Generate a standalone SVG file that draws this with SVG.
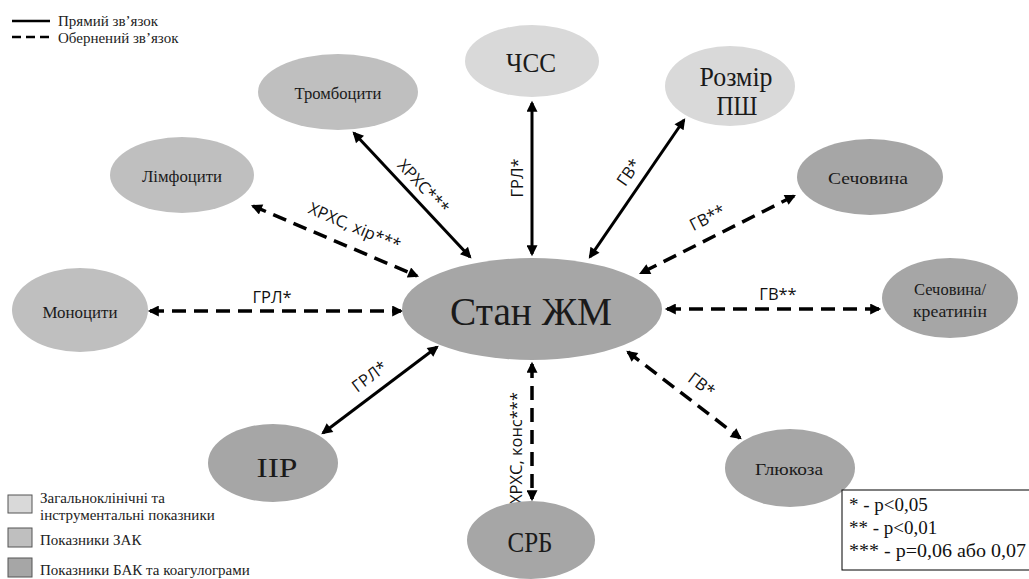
<svg xmlns="http://www.w3.org/2000/svg" width="1029" height="579" viewBox="0 0 1029 579">
<style>
.bg{fill:#ffffff}
.n1{fill:#d9d9d9}
.n2{fill:#bfbfbf}
.n3{fill:#a6a6a6}
.nt{font-family:"Liberation Serif","Times New Roman",serif;fill:#1a1a1a;text-anchor:middle;dominant-baseline:central}
.s17{font-size:17px}
.s28{font-size:28px}
.lbl{font-family:"Open Sans","DejaVu Sans",sans-serif;font-size:16.5px;fill:#111;text-anchor:middle;dominant-baseline:central}
.ln{stroke:#000;stroke-width:3;fill:none;marker-start:url(#ah);marker-end:url(#ah)}
.dash{stroke-dasharray:14 8;stroke-width:3.5}
.leg{font-family:"Liberation Serif","Times New Roman",serif;font-size:15px;fill:#222}
.sig{font-family:"Liberation Serif","Times New Roman",serif;font-size:19px;fill:#111}
</style>
<defs>
<marker id="ah" viewBox="0 0 10 10" refX="8" refY="5" markerWidth="13" markerHeight="11" markerUnits="userSpaceOnUse" orient="auto-start-reverse">
<path d="M0,0 L10,5 L0,10 z" fill="#000"/>
</marker>
</defs>
<rect class="bg" x="0" y="0" width="1029" height="579"/>

<g id="connectors">
<line class="ln" x1="532" y1="103" x2="532" y2="254"/>
<line class="ln" x1="354" y1="133" x2="470" y2="257"/>
<line class="ln" x1="684" y1="120" x2="590" y2="257"/>
<line class="ln dash" x1="253" y1="206" x2="417" y2="276"/>
<line class="ln dash" x1="150" y1="311" x2="401" y2="311"/>
<line class="ln dash" x1="794" y1="196" x2="641" y2="273"/>
<line class="ln dash" x1="667" y1="309" x2="879" y2="309"/>
<line class="ln" x1="323" y1="433" x2="437" y2="347"/>
<line class="ln dash" x1="628" y1="352" x2="740" y2="438"/>
<line class="ln dash" x1="532" y1="364" x2="532" y2="499"/>
</g>

<g id="edge-labels">
<text class="lbl" transform="translate(516,178) rotate(-90)">ГРЛ*</text>
<text class="lbl" transform="translate(424,186) rotate(47)">ХРХС***</text>
<text class="lbl" transform="translate(628,172) rotate(-55)">ГВ*</text>
<text class="lbl" transform="translate(355,226) rotate(23)">ХРХС, хір***</text>
<text class="lbl" transform="translate(272,296)">ГРЛ*</text>
<text class="lbl" transform="translate(707,217) rotate(-27)">ГВ**</text>
<text class="lbl" transform="translate(778,293)">ГВ**</text>
<text class="lbl" transform="translate(369,376) rotate(-37)">ГРЛ*</text>
<text class="lbl" transform="translate(702,384) rotate(37)">ГВ*</text>
<text class="lbl" transform="translate(515,448) rotate(-90)">ХРХС, конс***</text>
</g>

<g id="node-center">
<ellipse class="n3" cx="532" cy="309" rx="130" ry="51"/>
<text class="nt" x="531" y="311" style="font-size:40px" textLength="162" lengthAdjust="spacingAndGlyphs">Стан ЖМ</text>
</g>
<g id="node-chss">
<ellipse class="n1" cx="532" cy="61" rx="67" ry="36"/>
<text class="nt s28" x="531" y="62" textLength="50" lengthAdjust="spacingAndGlyphs">ЧСС</text>
</g>
<g id="node-rozmir">
<ellipse class="n1" cx="730" cy="86" rx="65" ry="40"/>
<text class="nt s28" x="736" y="76" textLength="73" lengthAdjust="spacingAndGlyphs">Розмір</text>
<text class="nt s28" x="737" y="105" textLength="41" lengthAdjust="spacingAndGlyphs">ПШ</text>
</g>
<g id="node-trombocyty">
<ellipse class="n2" cx="338" cy="92" rx="80" ry="38"/>
<text class="nt s17" x="338" y="93" textLength="87" lengthAdjust="spacingAndGlyphs">Тромбоцити</text>
</g>
<g id="node-limfocyty">
<ellipse class="n2" cx="182" cy="175" rx="72" ry="38"/>
<text class="nt s17" x="182" y="176" textLength="80" lengthAdjust="spacingAndGlyphs">Лімфоцити</text>
</g>
<g id="node-monocyty">
<ellipse class="n2" cx="80" cy="310" rx="68" ry="42"/>
<text class="nt s17" x="80" y="312" textLength="75" lengthAdjust="spacingAndGlyphs">Моноцити</text>
</g>
<g id="node-sechovyna">
<ellipse class="n3" cx="870" cy="177" rx="73" ry="38"/>
<text class="nt s17" x="868" y="178" textLength="80" lengthAdjust="spacingAndGlyphs">Сечовина</text>
</g>
<g id="node-sech-kreat">
<ellipse class="n3" cx="950" cy="298" rx="68" ry="40"/>
<text class="nt s17" x="950" y="289" textLength="72" lengthAdjust="spacingAndGlyphs">Сечовина/</text>
<text class="nt s17" x="950" y="311" textLength="74" lengthAdjust="spacingAndGlyphs">креатинін</text>
</g>
<g id="node-iir">
<ellipse class="n3" cx="273" cy="463" rx="65" ry="39"/>
<text class="nt s28" x="277" y="467" textLength="41" lengthAdjust="spacingAndGlyphs">ІІР</text>
</g>
<g id="node-glukoza">
<ellipse class="n3" cx="790" cy="468" rx="65" ry="39"/>
<text class="nt s17" x="789" y="469" textLength="68" lengthAdjust="spacingAndGlyphs">Глюкоза</text>
</g>
<g id="node-srb">
<ellipse class="n3" cx="531" cy="540" rx="64" ry="39"/>
<text class="nt" x="530" y="541" style="font-size:30px" textLength="45" lengthAdjust="spacingAndGlyphs">СРБ</text>
</g>

<g id="legend-lines">
<line x1="12" y1="21" x2="50" y2="21" stroke="#000" stroke-width="2.5"/>
<text class="leg" x="58" y="26">Прямий зв’язок</text>
<line x1="12" y1="37" x2="50" y2="37" stroke="#000" stroke-width="2.5" stroke-dasharray="9 5"/>
<text class="leg" x="58" y="43">Обернений зв’язок</text>
</g>

<g id="legend-colors">
<rect x="8" y="495" width="24" height="18" fill="#d9d9d9" stroke="#555" stroke-width="1"/>
<text class="leg" x="40" y="503">Загальноклінічні та</text>
<text class="leg" x="40" y="520">інструментальні показники</text>
<rect x="8" y="528" width="24" height="19" fill="#bfbfbf" stroke="#555" stroke-width="1"/>
<text class="leg" x="40" y="545">Показники ЗАК</text>
<rect x="8" y="558" width="24" height="19" fill="#a6a6a6" stroke="#555" stroke-width="1"/>
<text class="leg" x="40" y="575">Показники БАК та коагулограми</text>
</g>

<g id="legend-significance">
<rect x="842" y="490" width="190" height="80" fill="#fff" stroke="#000" stroke-width="1"/>
<text class="sig" x="849" y="511">* - p&lt;0,05</text>
<text class="sig" x="849" y="534">** - p&lt;0,01</text>
<text class="sig" x="849" y="557" textLength="177" lengthAdjust="spacingAndGlyphs">*** - p=0,06 або 0,07</text>
</g>
</svg>
